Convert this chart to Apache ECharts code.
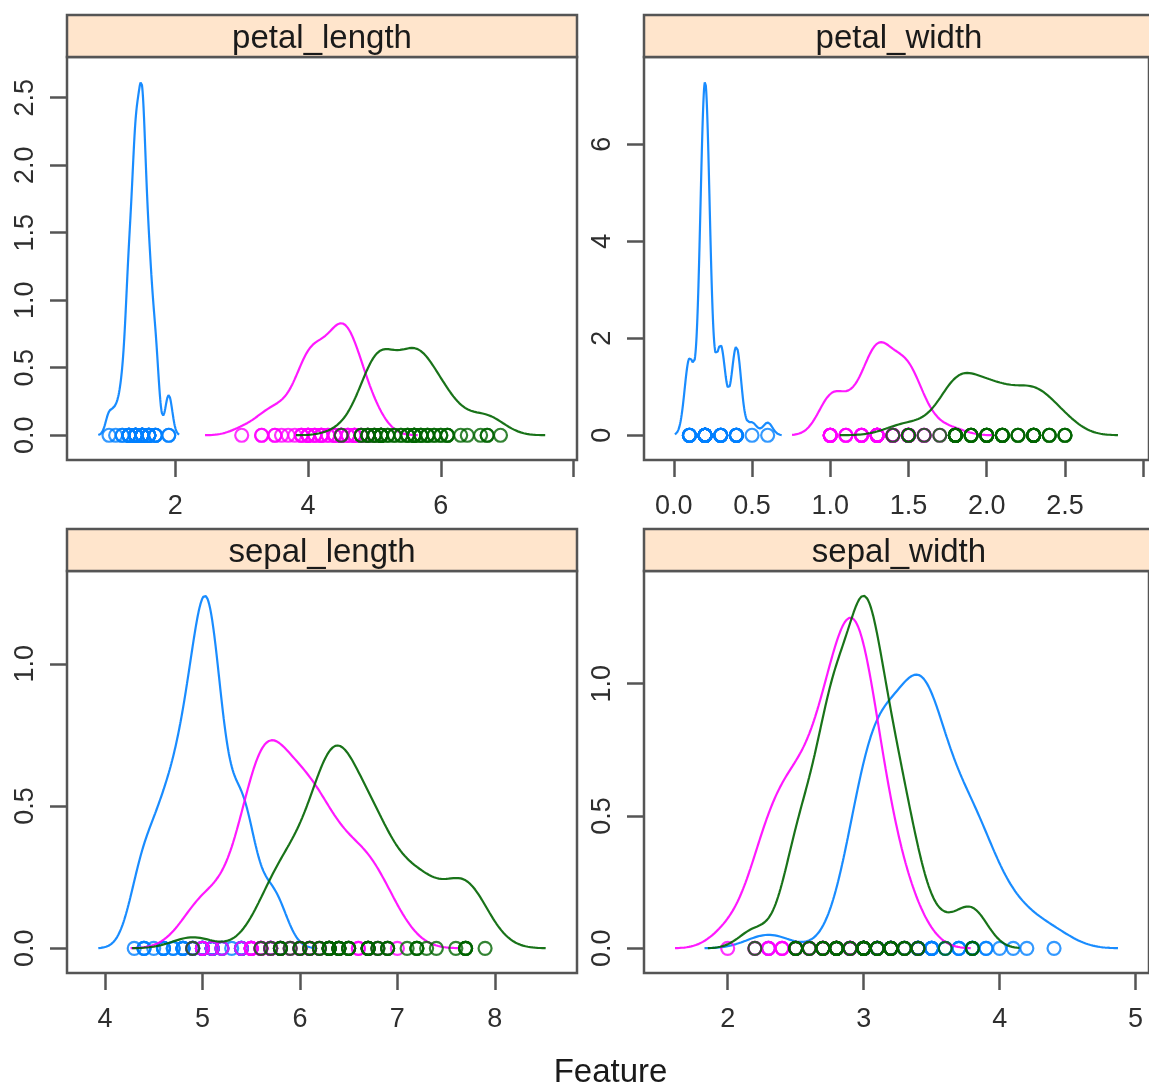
<!DOCTYPE html>
<html><head><meta charset="utf-8">
<script src="https://cdn.jsdelivr.net/npm/echarts@6/dist/echarts.min.js"></script>
<style>html,body{margin:0;padding:0;background:#fff}#c{width:1149px;height:1087px}</style>
</head><body><div id="c"></div>
<script>
// ---------------- DATA ----------------
const features = ['petal_length', 'petal_width', 'sepal_length', 'sepal_width'];
const species = ['setosa', 'versicolor', 'virginica'];
const xAxisTitle = 'Feature';

const setosa_sepal_length = [5.1,4.9,4.7,4.6,5.0,5.4,4.6,5.0,4.4,4.9,5.4,4.8,4.8,4.3,5.8,5.7,5.4,5.1,5.7,5.1,5.4,5.1,4.6,5.1,4.8,5.0,5.0,5.2,5.2,4.7,4.8,5.4,5.2,5.5,4.9,5.0,5.5,4.9,4.4,5.1,5.0,4.5,4.4,5.0,5.1,4.8,5.1,4.6,5.3,5.0];
const setosa_sepal_width = [3.5,3.0,3.2,3.1,3.6,3.9,3.4,3.4,2.9,3.1,3.7,3.4,3.0,3.0,4.0,4.4,3.9,3.5,3.8,3.8,3.4,3.7,3.6,3.3,3.4,3.0,3.4,3.5,3.4,3.2,3.1,3.4,4.1,4.2,3.1,3.2,3.5,3.1,3.0,3.4,3.5,2.3,3.2,3.5,3.8,3.0,3.8,3.2,3.7,3.3];
const setosa_petal_length = [1.4,1.4,1.3,1.5,1.4,1.7,1.4,1.5,1.4,1.5,1.5,1.6,1.4,1.1,1.2,1.5,1.3,1.4,1.7,1.5,1.7,1.5,1.0,1.7,1.9,1.6,1.6,1.5,1.4,1.6,1.6,1.5,1.5,1.4,1.5,1.2,1.3,1.5,1.3,1.5,1.3,1.3,1.3,1.6,1.9,1.4,1.6,1.4,1.5,1.4];
const setosa_petal_width = [0.2,0.2,0.2,0.2,0.2,0.4,0.3,0.2,0.2,0.1,0.2,0.2,0.1,0.1,0.2,0.4,0.4,0.3,0.3,0.3,0.2,0.4,0.2,0.5,0.2,0.2,0.4,0.2,0.2,0.2,0.2,0.4,0.1,0.2,0.1,0.2,0.2,0.1,0.2,0.2,0.3,0.3,0.2,0.6,0.4,0.3,0.2,0.2,0.2,0.2];

const versicolor_sepal_length = [7.0,6.4,6.9,5.5,6.5,5.7,6.3,4.9,6.6,5.2,5.0,5.9,6.0,6.1,5.6,6.7,5.6,5.8,6.2,5.6,5.9,6.1,6.3,6.1,6.4,6.6,6.8,6.7,6.0,5.7,5.5,5.5,5.8,6.0,5.4,6.0,6.7,6.3,5.6,5.5,5.5,6.1,5.8,5.0,5.6,5.7,5.7,6.2,5.1,5.7];
const versicolor_sepal_width = [3.2,3.2,3.1,2.3,2.8,2.8,3.3,2.4,2.9,2.7,2.0,3.0,2.2,2.9,2.9,3.1,3.0,2.7,2.2,2.5,3.2,2.8,2.5,2.8,2.9,3.0,2.8,3.0,2.9,2.6,2.4,2.4,2.7,2.7,3.0,3.4,3.1,2.3,3.0,2.5,2.6,3.0,2.6,2.3,2.7,3.0,2.9,2.9,2.5,2.8];
const versicolor_petal_length = [4.7,4.5,4.9,4.0,4.6,4.5,4.7,3.3,4.6,3.9,3.5,4.2,4.0,4.7,3.6,4.4,4.5,4.1,4.5,3.9,4.8,4.0,4.9,4.7,4.3,4.4,4.8,5.0,4.5,3.5,3.8,3.7,3.9,5.1,4.5,4.5,4.7,4.4,4.1,4.0,4.4,4.6,4.0,3.3,4.2,4.2,4.2,4.3,3.0,4.1];
const versicolor_petal_width = [1.4,1.5,1.5,1.3,1.5,1.3,1.6,1.0,1.3,1.4,1.0,1.5,1.0,1.4,1.3,1.4,1.5,1.0,1.5,1.1,1.8,1.3,1.5,1.2,1.3,1.4,1.4,1.7,1.5,1.0,1.1,1.0,1.2,1.6,1.5,1.6,1.5,1.3,1.3,1.3,1.2,1.4,1.2,1.0,1.3,1.2,1.3,1.3,1.1,1.3];

const virginica_sepal_length = [6.3,5.8,7.1,6.3,6.5,7.6,4.9,7.3,6.7,7.2,6.5,6.4,6.8,5.7,5.8,6.4,6.5,7.7,7.7,6.0,6.9,5.6,7.7,6.3,6.7,7.2,6.2,6.1,6.4,7.2,7.4,7.9,6.4,6.3,6.1,7.7,6.3,6.4,6.0,6.9,6.7,6.9,5.8,6.8,6.7,6.7,6.3,6.5,6.2,5.9];
const virginica_sepal_width = [3.3,2.7,3.0,2.9,3.0,3.0,2.5,2.9,2.5,3.6,3.2,2.7,3.0,2.5,2.8,3.2,3.0,3.8,2.6,2.2,3.2,2.8,2.8,2.7,3.3,3.2,2.8,3.0,2.8,3.0,2.8,3.8,2.8,2.8,2.6,3.0,3.4,3.1,3.0,3.1,3.1,3.1,2.7,3.2,3.3,3.0,2.5,3.0,3.4,3.0];
const virginica_petal_length = [6.0,5.1,5.9,5.6,5.8,6.6,4.5,6.3,5.8,6.1,5.1,5.3,5.5,5.0,5.1,5.3,5.5,6.7,6.9,5.0,5.7,4.9,6.7,4.9,5.7,6.0,4.8,4.9,5.6,5.8,6.1,6.4,5.6,5.1,5.6,6.1,5.6,5.5,4.8,5.4,5.6,5.1,5.1,5.9,5.7,5.2,5.0,5.2,5.4,5.1];
const virginica_petal_width = [2.5,1.9,2.1,1.8,2.2,2.1,1.7,1.8,1.8,2.5,2.0,1.9,2.1,2.0,2.4,2.3,1.8,2.2,2.3,1.5,2.3,2.0,2.0,1.8,2.1,1.8,1.8,1.8,2.1,1.6,1.9,2.0,2.2,1.5,1.4,2.3,2.4,1.8,1.8,2.1,2.4,2.3,1.9,2.3,2.5,2.3,1.9,2.0,2.3,1.8];

// tick positions and their labels ('' = tick without label)
const xTicks_petal_length = [2, 4, 6, 8];
const xLabels_petal_length = ['2', '4', '6', ''];
const yTicks_petal_length = [0, 0.5, 1, 1.5, 2, 2.5];
const yLabels_petal_length = ['0.0', '0.5', '1.0', '1.5', '2.0', '2.5'];
const xTicks_petal_width = [0, 0.5, 1, 1.5, 2, 2.5, 3];
const xLabels_petal_width = ['0.0', '0.5', '1.0', '1.5', '2.0', '2.5', ''];
const yTicks_petal_width = [0, 2, 4, 6];
const yLabels_petal_width = ['0', '2', '4', '6'];
const xTicks_sepal_length = [4, 5, 6, 7, 8];
const xLabels_sepal_length = ['4', '5', '6', '7', '8'];
const yTicks_sepal_length = [0, 0.5, 1];
const yLabels_sepal_length = ['0.0', '0.5', '1.0'];
const xTicks_sepal_width = [2, 3, 4, 5];
const xLabels_sepal_width = ['2', '3', '4', '5'];
const yTicks_sepal_width = [0, 0.5, 1];
const yLabels_sepal_width = ['0.0', '0.5', '1.0'];

// ---------------- STYLE / LAYOUT ----------------
const COLORS = { setosa: '#0080ff', versicolor: '#ff00ff', virginica: '#006400' };
const PANELS = [
  { left: 67, top: 57, width: 510, height: 403 },
  { left: 644, top: 57, width: 510, height: 403 },
  { left: 67, top: 571, width: 510, height: 402 },
  { left: 644, top: 571, width: 510, height: 402 }
];
const STRIP_H = 42;
const FRAME = '#555555';
const FONT = '"Liberation Sans", Arial, Helvetica, sans-serif';

const raw = {
  setosa: { sepal_length: setosa_sepal_length, sepal_width: setosa_sepal_width, petal_length: setosa_petal_length, petal_width: setosa_petal_width },
  versicolor: { sepal_length: versicolor_sepal_length, sepal_width: versicolor_sepal_width, petal_length: versicolor_petal_length, petal_width: versicolor_petal_width },
  virginica: { sepal_length: virginica_sepal_length, sepal_width: virginica_sepal_width, petal_length: virginica_petal_length, petal_width: virginica_petal_width }
};
const ticks = {
  petal_length: { x: xTicks_petal_length, xl: xLabels_petal_length, y: yTicks_petal_length, yl: yLabels_petal_length },
  petal_width: { x: xTicks_petal_width, xl: xLabels_petal_width, y: yTicks_petal_width, yl: yLabels_petal_width },
  sepal_length: { x: xTicks_sepal_length, xl: xLabels_sepal_length, y: yTicks_sepal_length, yl: yLabels_sepal_length },
  sepal_width: { x: xTicks_sepal_width, xl: xLabels_sepal_width, y: yTicks_sepal_width, yl: yLabels_sepal_width }
};

// ---------------- kernel density (R: density(), bw.nrd0, n = 512, cut = 3) ----------------
function q7(s, p) { const h = (s.length - 1) * p, lo = Math.floor(h); const hi = Math.min(lo + 1, s.length - 1); return s[lo] + (h - lo) * (s[hi] - s[lo]); }
function bwNrd0(x) {
  const n = x.length, m = x.reduce((a, b) => a + b, 0) / n;
  const sd = Math.sqrt(x.reduce((a, b) => a + (b - m) * (b - m), 0) / (n - 1));
  const s = x.slice().sort((a, b) => a - b);
  let lo = Math.min(sd, (q7(s, 0.75) - q7(s, 0.25)) / 1.34);
  if (!(lo > 0)) lo = sd || Math.abs(s[0]) || 1;
  return 0.9 * lo * Math.pow(n, -0.2);
}
function density(x) {
  const bw = bwNrd0(x), n = x.length;
  const from = Math.min(...x) - 3 * bw, to = Math.max(...x) + 3 * bw, N = 512;
  const c = 1 / (n * bw * Math.sqrt(2 * Math.PI));
  const out = [];
  for (let i = 0; i < N; i++) {
    const xi = from + (to - from) * i / (N - 1);
    let s = 0;
    for (let j = 0; j < n; j++) { const u = (xi - x[j]) / bw; s += Math.exp(-0.5 * u * u); }
    out.push([xi, s * c]);
  }
  return out;
}

// ---------------- build option ----------------
const grid = [], xAxis = [], yAxis = [], series = [], graphic = [];
features.forEach((f, i) => {
  const P = PANELS[i];
  const dens = species.map(sp => density(raw[sp][f]));
  let xmin = Infinity, xmax = -Infinity, ymax = 0;
  species.forEach(sp => raw[sp][f].forEach(v => { xmin = Math.min(xmin, v); xmax = Math.max(xmax, v); }));
  dens.forEach(d => d.forEach(p => { xmin = Math.min(xmin, p[0]); xmax = Math.max(xmax, p[0]); ymax = Math.max(ymax, p[1]); }));
  const dx = (xmax - xmin) * 0.07, dy = ymax * 0.07;
  grid.push({ left: P.left, top: P.top, width: P.width, height: P.height, show: true, borderColor: FRAME, borderWidth: 2.5, backgroundColor: 'transparent' });
  const T = ticks[f];
  const labelOf = (vals, labs) => v => { for (let k = 0; k < vals.length; k++) if (Math.abs(vals[k] - v) < 1e-9) return labs[k]; return ''; };
  xAxis.push({
    type: 'value', gridIndex: i, position: 'bottom', min: xmin - dx, max: xmax + dx,
    axisLine: { show: false, onZero: false }, splitLine: { show: false },
    axisTick: { show: true, inside: false, length: 17, customValues: T.x, lineStyle: { color: FRAME, width: 2.5 } },
    axisLabel: { show: true, customValues: T.x, margin: 33, formatter: labelOf(T.x, T.xl), color: '#2e2e2e', fontSize: 27, fontFamily: FONT, showMinLabel: true, showMaxLabel: true, hideOverlap: false }
  });
  yAxis.push({
    type: 'value', gridIndex: i, position: 'left', min: -dy, max: ymax + dy,
    axisLine: { show: false, onZero: false }, splitLine: { show: false },
    axisTick: { show: true, inside: false, length: 17, customValues: T.y, lineStyle: { color: FRAME, width: 2.5 } },
    axisLabel: { show: true, customValues: T.y, rotate: 90, margin: 28, formatter: labelOf(T.y, T.yl), color: '#2e2e2e', fontSize: 27, fontFamily: FONT, showMinLabel: true, showMaxLabel: true, hideOverlap: false }
  });
  species.forEach((sp, k) => {
    series.push({
      type: 'scatter', xAxisIndex: i, yAxisIndex: i, symbol: 'circle', symbolSize: 13,
      itemStyle: { color: 'rgba(0,0,0,0)', borderColor: COLORS[sp], borderWidth: 2.2 },
      data: raw[sp][f].map(v => [v, 0]), silent: true, z: 2 + k * 2
    });
    series.push({
      type: 'line', xAxisIndex: i, yAxisIndex: i, showSymbol: false, symbol: 'none',
      lineStyle: { color: COLORS[sp], width: 2.2, opacity: 0.9 }, data: dens[k], silent: true, z: 3 + k * 2, clip: true
    });
  });
  graphic.push({
    type: 'rect', shape: { x: P.left, y: P.top - STRIP_H, width: P.width, height: STRIP_H },
    style: { fill: '#ffe5cc', stroke: FRAME, lineWidth: 2.5 }, z: 10
  });
  graphic.push({
    type: 'text', x: P.left + P.width / 2, y: P.top - STRIP_H / 2 + 3,
    style: { text: f, textAlign: 'center', textVerticalAlign: 'middle', font: '33px ' + FONT, fill: '#1a1a1a' }, z: 11
  });
});
graphic.push({
  type: 'text', x: (PANELS[0].left + PANELS[1].left + PANELS[1].width) / 2, y: 1073,
  style: { text: xAxisTitle, textAlign: 'center', textVerticalAlign: 'middle', font: '33px ' + FONT, fill: '#1a1a1a' }, z: 11
});

const chart = echarts.init(document.getElementById('c'), null, { renderer: 'canvas' });
chart.setOption({ animation: false, backgroundColor: '#ffffff', grid, xAxis, yAxis, series, graphic });
</script></body></html>
